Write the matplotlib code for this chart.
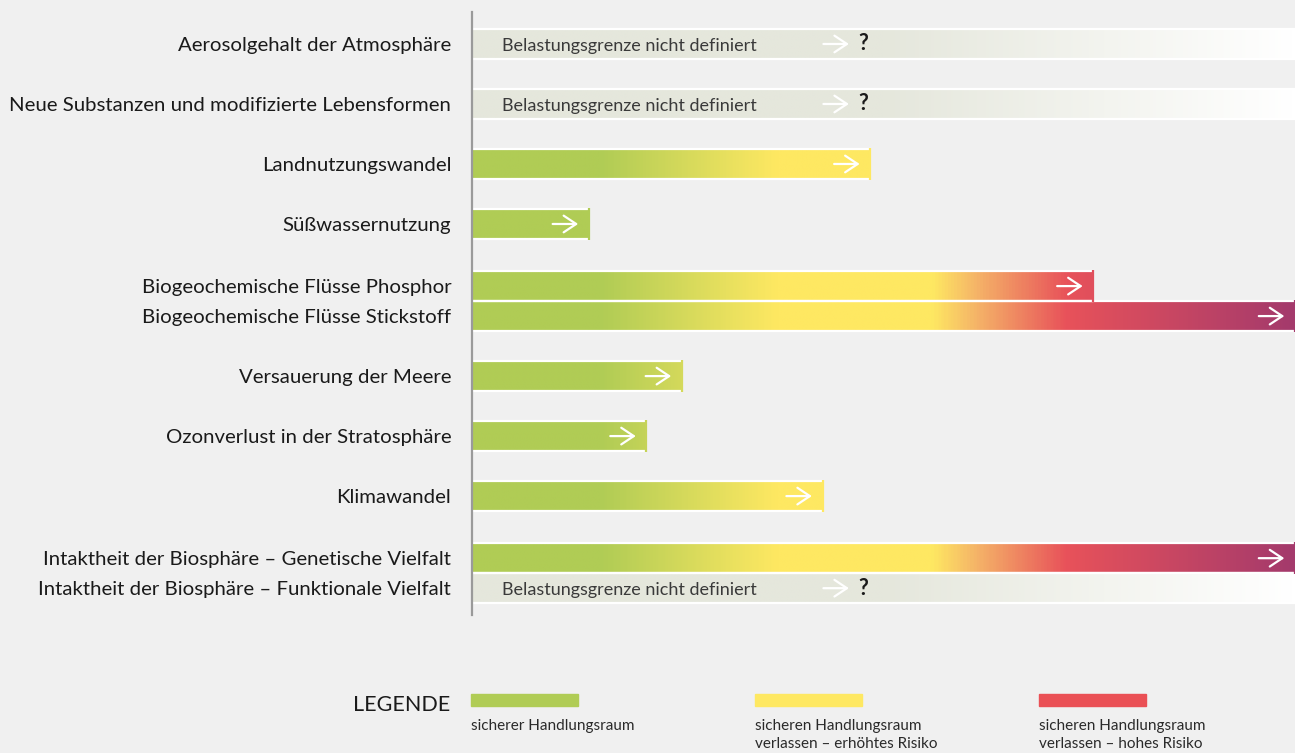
import matplotlib
matplotlib.use("Agg")
import matplotlib.pyplot as plt
import numpy as np
from matplotlib.colors import LinearSegmentedColormap
from matplotlib.patches import Rectangle

plt.rcParams['font.family'] = ['Lato', 'DejaVu Sans']

# categories, top to bottom; group marks rows that belong together
categories = ["Aerosolgehalt der Atmosphäre",
              "Neue Substanzen und modifizierte Lebensformen",
              "Landnutzungswandel",
              "Süßwassernutzung",
              "Biogeochemische Flüsse Phosphor",
              "Biogeochemische Flüsse Stickstoff",
              "Versauerung der Meere",
              "Ozonverlust in der Stratosphäre",
              "Klimawandel",
              "Intaktheit der Biosphäre – Genetische Vielfalt",
              "Intaktheit der Biosphäre – Funktionale Vielfalt"]
group = [0, 1, 2, 3, 4, 4, 5, 6, 7, 8, 8]
# extent of pressure, 0-100 (None = boundary not defined)
values = [None, None, 48.4, 14.2, 75.5, 100, 25.5, 21.2, 42.6, 100, None]

legend_labels = ["sicherer Handlungsraum",
                 "sicheren Handlungsraum\nverlassen – erhöhtes Risiko",
                 "sicheren Handlungsraum\nverlassen – hohes Risiko"]
legend_colors = ["#b0cc55", "#fee862", "#ea5055"]

risk = LinearSegmentedColormap.from_list("risk", [
    (0.0, "#b0cc55"), (0.155, "#b0cc55"), (0.37, "#fee862"),
    (0.56, "#fee862"), (0.613, "#f5b468"), (0.723, "#e8525a"),
    (1.0, "#a43a6c")])
undef = LinearSegmentedColormap.from_list("undef", [
    (0.0, "#e5e7dc"), (0.5, "#e5e7dc"), (1.0, "#ffffff")])

# row positions: 1 unit between groups, 0.5 inside a group,
# a little extra room before a group of two rows
ypos = [0.0]
for i in range(1, len(categories)):
    if group[i] == group[i - 1]:
        ypos.append(ypos[-1] + 0.5)
    else:
        step = 1.0
        if i + 1 < len(group) and group[i + 1] == group[i]:
            step += 0.035
        ypos.append(ypos[-1] + step)

W, H = 1295, 753
fig = plt.figure(figsize=(W / 100, H / 100), dpi=100, facecolor="#f0f0f0")
ax = fig.add_axes([472 / W, 1 - 615 / H, 823 / W, 603 / H])
ax.set_facecolor("#f0f0f0")
ax.set_xlim(0, 100)
ax.set_ylim(9.517, -0.533)

h = 0.5
n = 600
arrow = dict(arrowstyle="->,head_length=0.9,head_width=0.6",
             color="white", lw=1.6, shrinkA=0, shrinkB=0)
for y, v in zip(ypos, values):
    if v is None:
        img = undef(np.linspace(0, 1, n))[None, :, :]
        ax.imshow(img, extent=[0, 100, y + h / 2, y - h / 2], aspect="auto",
                  interpolation="bilinear", zorder=1)
        ax.hlines([y - h / 2, y + h / 2], 0, 100, color="white", lw=1.6, zorder=2)
        ax.text(3.65, y + 0.03, "Belastungsgrenze nicht definiert", color="#3a3a3a",
                fontsize=13, va="center", ha="left", zorder=3)
        ax.annotate("", xy=(45.8, y), xytext=(42.7, y), arrowprops=arrow, zorder=3)
        ax.text(47.5, y, "?", color="#1a1a1a", fontsize=15.5,
                fontweight="bold", va="center", ha="center", zorder=3)
    else:
        img = risk(np.linspace(0, v / 100, n))[None, :, :]
        ax.imshow(img, extent=[0, v, y + h / 2, y - h / 2], aspect="auto",
                  interpolation="bilinear", zorder=1)
        ax.hlines([y - h / 2, y + h / 2], 0, v, color="white", lw=1.6, zorder=2)
        ax.vlines(v, y - h / 2 - 0.02, y + h / 2 + 0.02, color=risk(v / 100),
                  lw=1.6, zorder=3)
        ax.annotate("", xy=(v - 1.3, y), xytext=(v - 4.4, y), arrowprops=arrow,
                    zorder=4)

ax.set_yticks(ypos)
ax.set_yticklabels(categories, fontsize=14.7, color="#1a1a1a")
ax.tick_params(axis="y", length=0, pad=15)
ax.set_xticks([])
for s in ["top", "right", "bottom"]:
    ax.spines[s].set_visible(False)
ax.spines["left"].set_color("#9a9a9a")
ax.spines["left"].set_linewidth(1.6)

# legend
fig.text(450 / W, 1 - 705 / H, "LEGENDE", fontsize=15.5, color="#1a1a1a",
         ha="right", va="center")
for i, (lab, col) in enumerate(zip(legend_labels, legend_colors)):
    x0 = 471 + i * 284
    fig.patches.append(Rectangle((x0 / W, 1 - 706 / H), 107 / W, 12 / H,
                                 transform=fig.transFigure, color=col))
    fig.text(x0 / W, 1 - 719 / H, lab, fontsize=11, color="#2a2a2a",
             ha="left", va="top", linespacing=1.4)

fig.savefig("out.png", dpi=100, facecolor=fig.get_facecolor())
